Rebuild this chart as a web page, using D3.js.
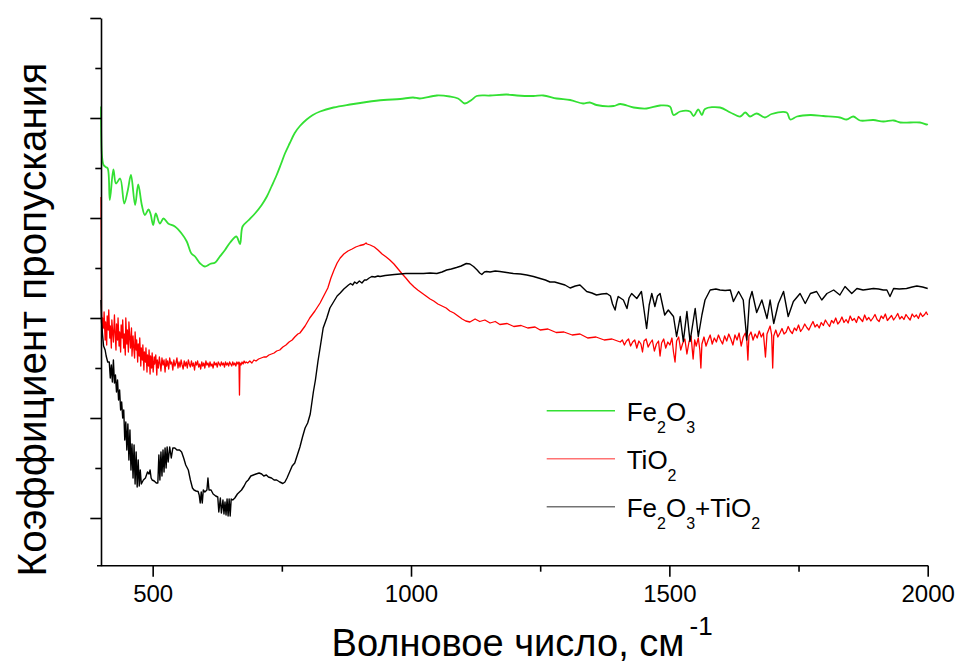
<!DOCTYPE html>
<html>
<head>
<meta charset="utf-8">
<script src="https://cdn.jsdelivr.net/npm/d3@7"></script>
<style>
  body { margin: 0; background: #fff; }
  svg { display: block; }
  text { font-family: "Liberation Sans", Arial, sans-serif; fill: #000; }
</style>
</head>
<body>
<svg id="chart" width="957" height="664"></svg>
<script>
// IR transmission spectra, [wavenumber cm^-1, transmittance a.u.]
const fe2o3 = [[400,92.3],[402,82.3],[405,80.6],[409,80.2],[413,79.9],[417,73.6],[424,79.7],[429,76.9],[437,77.9],[445,72.9],[452,75.6],[458,78.6],[466,72.6],[472,76.7],[479,72.6],[485,70.6],[492,71.7],[496,70.8],[501,68.6],[506,70.9],[514,68.9],[521,69.9],[530,68.9],[543,68.3],[556,66.9],[566,65.3],[575,62.9],[582,62.3],[592,60.9],[601,60.3],[611,60.8],[621,61.1],[630,62.3],[640,63.6],[650,65.1],[662,66.3],[669,64.8],[674,68.3],[685,69.5],[698,70.9],[711,72.6],[721,74.3],[730,76.3],[740,78.6],[748,80.7],[756,82.9],[765,84.9],[775,87.0],[785,88.4],[798,89.7],[810,90.6],[824,91.3],[850,92.1],[882,92.7],[914,93.2],[947,93.6],[979,93.8],[1004,94.1],[1017,93.9],[1050,94.5],[1075,94.3],[1091,93.9],[1104,92.9],[1117,93.6],[1127,94.4],[1153,94.5],[1185,94.7],[1205,94.5],[1237,94.4],[1256,94.5],[1282,93.9],[1308,93.6],[1333,92.9],[1346,93.1],[1359,92.6],[1392,92.4],[1405,92.8],[1431,92.1],[1456,91.9],[1482,92.5],[1501,92.3],[1508,90.6],[1521,91.3],[1540,91.3],[1547,90.4],[1556,91.7],[1563,90.6],[1569,91.8],[1598,92.1],[1618,91.1],[1637,90.3],[1647,91.1],[1656,90.3],[1669,90.9],[1685,90.1],[1698,90.8],[1727,91.1],[1734,89.7],[1747,90.3],[1773,90.6],[1798,90.4],[1830,90.1],[1843,89.7],[1856,90.3],[1869,89.5],[1895,89.6],[1914,89.3],[1934,89.5],[1947,89.1],[1966,89.1],[1985,89.1],[1998,88.7],[2000,88.8]];

const tio2 = [[400,74.2],[401,51.6],[402,46.6],[403,50.0],[405,48.0],[406,51.2],[408,45.6],[409,49.2],[411,44.6],[412,50.4],[414,47.6],[415,51.6],[417,46.0],[418,48.4],[420,44.0],[421,49.6],[423,46.6],[424,45.2],[426,50.6],[427,47.6],[429,43.6],[430,48.8],[432,45.6],[433,50.0],[435,44.4],[436,47.2],[438,43.2],[439,48.6],[441,46.0],[442,49.6],[444,44.0],[445,46.8],[447,42.6],[448,50.0],[450,44.8],[451,47.6],[453,43.2],[454,49.2],[456,45.6],[457,44.0],[459,48.0],[460,42.4],[462,46.4],[463,44.6],[465,42.0],[466,47.2],[468,43.6],[469,45.6],[471,41.2],[472,44.8],[474,42.4],[475,46.0],[477,40.4],[478,44.0],[480,41.6],[481,44.6],[483,39.6],[484,43.2],[486,41.2],[487,44.0],[489,39.2],[490,42.6],[492,40.4],[493,43.6],[495,38.8],[496,42.4],[498,40.0],[499,43.0],[501,39.2],[503,42.2],[504,40.8],[506,42.6],[508,38.6],[509,41.6],[511,40.0],[513,42.2],[515,40.4],[516,39.4],[518,42.0],[520,40.6],[522,41.6],[524,39.2],[526,41.8],[527,40.4],[529,41.4],[531,39.8],[533,42.0],[535,40.8],[537,41.2],[539,39.6],[541,41.6],[543,40.4],[545,41.0],[547,42.0],[549,40.0],[551,41.2],[553,40.2],[555,41.6],[557,40.6],[559,39.8],[561,41.4],[563,40.4],[565,41.2],[567,40.0],[569,41.6],[571,40.8],[573,40.2],[575,41.4],[577,40.4],[579,41.0],[581,39.6],[583,41.2],[585,40.6],[587,41.4],[589,40.2],[591,40.8],[593,39.8],[595,41.2],[597,40.4],[599,41.0],[601,40.0],[603,41.4],[605,40.6],[607,41.0],[609,40.2],[611,41.2],[613,40.4],[615,40.8],[617,40.0],[619,41.2],[621,40.6],[623,41.0],[625,40.2],[627,41.2],[629,40.8],[631,40.4],[633,41.2],[635,40.6],[637,41.0],[639,40.2],[641,41.2],[643,40.6],[645,41.0],[647,40.4],[649,41.2],[651,40.8],[653,40.4],[655,41.2],[657,40.6],[659,41.0],[661,40.4],[663,41.2],[665,40.8],[667,41.2],[668,34.6],[669,41.0],[671,40.6],[673,41.2],[675,40.8],[677,41.4],[679,41.0],[681,41.2],[684,41.0],[688,41.4],[692,41.0],[696,41.6],[700,41.4],[705,41.8],[710,42.0],[715,42.2],[720,42.2],[725,42.6],[730,42.8],[735,43.0],[740,43.4],[746,43.6],[752,44.2],[758,44.6],[764,45.2],[770,45.6],[775,46.2],[781,46.8],[785,47.0],[795,48.4],[804,50.0],[814,51.4],[824,53.0],[832,54.6],[839,56.0],[845,58.0],[851,59.6],[857,61.0],[863,62.0],[870,62.8],[878,63.4],[886,63.8],[893,64.2],[901,64.5],[909,64.7],[913,65.0],[915,64.8],[921,64.6],[929,64.2],[936,63.6],[944,62.8],[952,62.2],[959,61.6],[967,60.8],[975,59.8],[983,58.8],[990,58.0],[998,57.0],[1006,56.2],[1013,55.6],[1021,55.0],[1029,54.4],[1037,53.8],[1044,53.4],[1052,52.8],[1060,52.4],[1068,52.0],[1075,51.4],[1083,51.0],[1091,50.4],[1099,49.8],[1106,49.4],[1114,49.2],[1124,49.8],[1133,49.3],[1143,49.6],[1153,49.0],[1163,49.3],[1172,48.7],[1186,48.9],[1199,48.3],[1213,48.5],[1226,48.0],[1240,48.2],[1250,47.6],[1265,47.8],[1281,47.1],[1296,47.2],[1312,46.6],[1327,46.8],[1342,46.0],[1358,46.2],[1374,45.6],[1389,45.8],[1405,45.2],[1409,45.6],[1413,44.6],[1417,45.4],[1421,45.8],[1425,44.4],[1429,45.2],[1433,45.6],[1437,44.0],[1441,45.4],[1445,44.8],[1448,43.2],[1451,45.4],[1455,45.8],[1459,44.2],[1463,45.0],[1467,45.6],[1471,43.4],[1475,44.8],[1479,45.4],[1482,42.4],[1485,45.0],[1489,45.8],[1493,44.0],[1497,45.2],[1501,44.6],[1505,46.0],[1508,43.2],[1511,41.2],[1514,45.4],[1518,46.2],[1522,43.6],[1526,45.0],[1530,45.8],[1534,42.8],[1538,45.2],[1542,46.4],[1546,41.8],[1549,45.6],[1552,44.4],[1556,46.0],[1559,43.6],[1561,40.0],[1563,44.8],[1567,46.2],[1571,44.4],[1575,45.6],[1579,46.6],[1583,44.8],[1587,46.0],[1591,45.2],[1595,46.6],[1599,45.6],[1603,44.8],[1607,46.4],[1611,45.4],[1615,46.8],[1619,45.8],[1623,44.6],[1627,46.6],[1631,45.6],[1635,47.0],[1639,44.4],[1643,46.2],[1647,47.0],[1650,45.4],[1652,41.6],[1654,46.4],[1658,47.2],[1662,45.6],[1666,46.8],[1670,46.0],[1674,47.4],[1678,46.2],[1682,47.0],[1686,42.2],[1689,46.8],[1692,47.6],[1695,48.4],[1698,46.6],[1700,40.0],[1702,46.4],[1706,47.6],[1710,46.2],[1714,47.0],[1718,47.9],[1722,46.8],[1726,47.2],[1730,48.3],[1734,47.4],[1738,46.9],[1742,48.0],[1746,47.5],[1750,48.6],[1754,47.3],[1758,47.9],[1762,48.8],[1766,48.1],[1770,47.6],[1774,48.5],[1778,49.3],[1782,48.2],[1786,48.7],[1790,48.0],[1794,49.1],[1798,48.5],[1802,49.6],[1806,48.9],[1810,48.3],[1814,49.5],[1818,49.0],[1822,50.0],[1826,48.8],[1830,49.3],[1834,50.2],[1838,49.1],[1842,49.7],[1846,49.0],[1850,50.4],[1854,49.5],[1858,49.9],[1862,49.1],[1866,50.3],[1870,49.8],[1874,49.3],[1878,50.6],[1882,49.6],[1886,50.1],[1890,49.4],[1894,50.0],[1898,50.7],[1902,49.7],[1906,49.3],[1910,50.4],[1914,49.9],[1918,50.8],[1922,49.5],[1926,50.0],[1930,50.5],[1934,49.6],[1938,50.2],[1942,50.9],[1946,49.8],[1950,50.3],[1954,49.7],[1958,50.7],[1962,50.1],[1966,49.6],[1970,50.8],[1974,50.2],[1978,50.6],[1982,49.9],[1986,51.0],[1990,50.3],[1994,50.7],[1997,51.2],[2000,50.6]];

const mixture = [[400,53.6],[401,49.2],[403,46.6],[405,44.4],[408,43.6],[410,42.4],[413,41.2],[416,41.2],[418,38.0],[420,40.6],[422,37.2],[424,41.6],[426,37.0],[428,38.6],[430,35.2],[432,37.6],[434,33.6],[436,35.6],[438,31.6],[440,33.2],[442,30.0],[444,31.6],[446,25.6],[448,29.2],[450,23.6],[452,28.8],[454,21.6],[456,27.6],[458,19.6],[460,24.8],[462,18.0],[464,24.6],[466,16.8],[468,23.2],[470,16.2],[472,21.6],[474,16.4],[476,19.6],[478,16.8],[482,17.6],[486,18.0],[490,19.2],[493,18.8],[495,19.6],[497,18.0],[499,17.6],[503,17.4],[507,17.0],[510,17.0],[512,22.6],[514,17.6],[516,23.2],[518,18.4],[520,23.6],[522,19.2],[524,24.0],[526,20.0],[528,24.2],[530,21.2],[533,24.2],[536,22.0],[539,24.0],[543,24.0],[547,23.6],[552,23.6],[556,23.2],[560,22.0],[564,20.6],[569,19.6],[573,17.6],[577,16.0],[580,15.6],[584,15.4],[588,15.3],[590,14.6],[592,13.0],[594,15.2],[596,13.0],[598,15.6],[601,15.2],[605,15.6],[607,18.0],[609,15.6],[613,15.6],[617,14.8],[622,14.4],[626,14.2],[628,11.2],[631,14.0],[633,11.0],[636,13.6],[638,10.8],[640,13.2],[642,10.6],[644,13.8],[646,10.4],[648,13.8],[650,10.4],[652,13.8],[655,13.6],[659,14.0],[664,14.8],[668,15.2],[672,15.6],[677,16.4],[681,17.2],[685,17.6],[690,18.4],[695,18.6],[700,18.8],[706,19.0],[711,18.8],[715,18.4],[720,18.6],[724,18.2],[730,18.0],[735,17.6],[740,17.6],[746,17.2],[752,16.9],[756,17.2],[760,18.0],[765,19.2],[770,20.4],[775,21.0],[780,22.6],[785,24.2],[790,26.2],[795,28.0],[800,29.0],[805,30.8],[811,35.2],[815,37.6],[820,41.4],[824,44.0],[830,48.0],[837,50.0],[843,52.0],[850,53.2],[857,54.4],[863,55.0],[870,55.8],[879,56.6],[883,56.9],[887,56.6],[891,57.2],[895,56.9],[900,57.4],[905,57.0],[910,57.6],[914,57.6],[919,58.0],[924,58.3],[930,58.2],[936,58.4],[940,58.3],[950,58.5],[959,58.6],[968,58.7],[979,58.8],[990,58.9],[998,58.9],[1010,58.9],[1024,58.9],[1037,59.0],[1050,58.9],[1060,59.2],[1069,59.6],[1078,59.8],[1088,60.1],[1097,60.4],[1107,60.9],[1114,60.8],[1121,60.3],[1128,59.6],[1133,59.0],[1137,58.7],[1142,59.2],[1146,59.3],[1153,59.2],[1163,59.4],[1172,59.3],[1185,59.1],[1198,58.9],[1212,58.8],[1224,58.6],[1237,58.3],[1250,57.9],[1260,57.6],[1269,57.2],[1278,57.2],[1288,56.9],[1298,56.6],[1308,56.0],[1318,56.4],[1327,56.6],[1340,55.3],[1350,55.0],[1359,54.6],[1369,54.8],[1379,54.9],[1386,54.4],[1390,52.8],[1395,51.6],[1398,53.2],[1401,54.3],[1411,53.6],[1418,51.9],[1422,54.0],[1427,54.9],[1437,53.9],[1446,55.3],[1451,51.6],[1456,47.9],[1461,52.6],[1466,54.9],[1472,52.3],[1477,54.4],[1482,54.9],[1491,50.6],[1498,51.6],[1508,50.3],[1514,46.3],[1521,50.3],[1527,45.3],[1534,51.3],[1540,45.3],[1550,51.9],[1556,46.3],[1563,50.6],[1569,53.6],[1579,55.6],[1590,55.8],[1598,55.6],[1608,55.5],[1618,55.6],[1624,53.3],[1634,55.3],[1643,53.6],[1650,45.6],[1655,53.6],[1660,55.3],[1669,51.1],[1679,53.6],[1689,49.9],[1695,53.6],[1702,48.9],[1711,52.9],[1721,55.3],[1730,50.3],[1740,53.3],[1753,54.9],[1763,52.9],[1773,54.9],[1785,55.3],[1795,53.6],[1805,54.9],[1818,55.6],[1830,54.6],[1840,56.3],[1853,54.9],[1863,55.9],[1875,55.6],[1882,55.7],[1895,55.9],[1905,55.8],[1914,55.6],[1921,55.6],[1927,54.3],[1934,55.9],[1945,55.8],[1959,55.9],[1970,56.2],[1979,56.4],[1990,56.2],[2000,55.9]];

const xTickValues = [500, 750, 1000, 1250, 1500, 1750, 2000];
const xLabelled = [500, 1000, 1500, 2000];
const yTickValues = [10, 20, 30, 40, 50, 60, 70, 80, 90, 100, 110];
const yMajor = [10, 30, 50, 70, 90, 110];

const seriesList = [
  { name: "TiO2",       data: tio2,    color: "#ff0000", width: 1.3, curve: d3.curveLinear },
  { name: "Fe2O3+TiO2", data: mixture, color: "#000000", width: 1.4, curve: d3.curveLinear },
  { name: "Fe2O3",      data: fe2o3,   color: "#33e033", width: 1.8, curve: d3.curveCatmullRom.alpha(0.5) }
];

const svg = d3.select("#chart");
const x = d3.scaleLinear().domain([400, 2000]).range([101, 927.7]);
const y = d3.scaleLinear().domain([0.46, 110]).range([565.7, 18]);

// spectra
svg.append("g").selectAll("path").data(seriesList).join("path")
  .attr("d", s => d3.line().curve(s.curve).x(d => x(d[0])).y(d => y(d[1]))(s.data))
  .attr("fill", "none")
  .attr("stroke", s => s.color)
  .attr("stroke-width", s => s.width)
  .attr("stroke-linejoin", "round");

// x axis
const xAxis = d3.axisBottom(x)
  .tickValues(xTickValues)
  .tickSize(11).tickSizeOuter(0).tickPadding(8)
  .tickFormat(d => xLabelled.includes(d) ? String(d) : "");
const gx = svg.append("g").attr("transform", `translate(0,${y.range()[0]})`).call(xAxis);
gx.select(".domain").remove();
gx.selectAll(".tick line").attr("stroke-width", 1.6)
  .attr("y2", d => xLabelled.includes(d) ? 11 : 6);
gx.selectAll(".tick text").attr("font-size", 24)
  .attr("font-family", '"Liberation Sans", Arial, sans-serif');
svg.append("line")
  .attr("x1", x.range()[0] - 4).attr("x2", x.range()[1] + 0.5)
  .attr("y1", y.range()[0]).attr("y2", y.range()[0])
  .attr("stroke", "#000").attr("stroke-width", 1.6);

// y axis, ticks only
const yAxis = d3.axisLeft(y).tickValues(yTickValues).tickSize(10.7).tickSizeOuter(0).tickFormat("");
const gy = svg.append("g").attr("transform", `translate(${x.range()[0]},0)`).call(yAxis);
gy.select(".domain").attr("stroke-width", 1.6);
gy.selectAll(".tick line").attr("stroke-width", 1.6)
  .attr("x2", d => yMajor.includes(d) ? -10.7 : -5.7);

// axis titles
function fitWidth(sel, target) {
  const len = sel.node().getComputedTextLength();
  sel.attr("font-size", parseFloat(sel.attr("font-size")) * target / len);
}
const xTitle = svg.append("text")
  .attr("x", 331.5).attr("y", 655.5).attr("font-size", 40)
  .text("Волновое число, см");
fitWidth(xTitle, 353);
xTitle.append("tspan").attr("dx", 5).attr("dy", -21).attr("font-size", 26).text("-1");

const yTitle = svg.append("text")
  .attr("transform", "translate(46,319.5) rotate(-90)")
  .attr("text-anchor", "middle").attr("font-size", 40)
  .text("Коэффициент пропускания");
fitWidth(yTitle, 514);

// legend
const legendRows = [
  { parts: [["Fe"], ["2", true], ["O"], ["3", true]], color: "#33e033", opacity: 1 },
  { parts: [["TiO"], ["2", true]], color: "#ff0000", opacity: 0.55 },
  { parts: [["Fe"], ["2", true], ["O"], ["3", true], ["+TiO"], ["2", true]], color: "#000000", opacity: 0.55 }
];
const legend = svg.append("g");
legendRows.forEach((row, i) => {
  const base = 420.7 + i * 48;
  legend.append("line")
    .attr("x1", 546.7).attr("x2", 615).attr("y1", base - 10).attr("y2", base - 10)
    .attr("stroke", row.color).attr("stroke-width", 1.4).attr("stroke-opacity", row.opacity);
  const t = legend.append("text").attr("x", 626.7).attr("y", base).attr("font-size", 26);
  let shifted = false;
  row.parts.forEach(([s, sub]) => {
    const ts = t.append("tspan").text(s);
    if (sub && !shifted) { ts.attr("dy", 12).attr("font-size", 16); shifted = true; }
    else if (!sub && shifted) { ts.attr("dy", -12); shifted = false; }
    else if (sub) ts.attr("font-size", 16);
  });
});
</script>
</body>
</html>
